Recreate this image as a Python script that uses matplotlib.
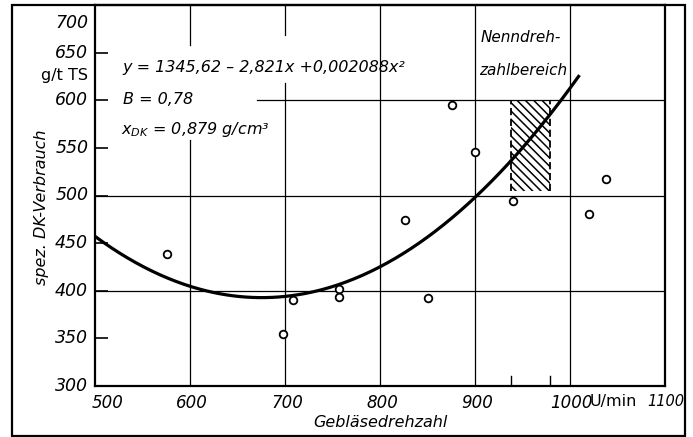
import numpy as np
import matplotlib.pyplot as plt
from matplotlib.patches import Rectangle
import matplotlib.transforms as mtransforms

# Messpunkte: Gebläsedrehzahl (U/min) und spez. DK-Verbrauch (g/t TS)
drehzahl = [576, 698, 708, 757, 757, 826, 851, 876, 900, 940, 1020, 1038]
verbrauch = [439, 355, 390, 402, 393, 474, 392, 595, 546, 494, 481, 517]

# Regressionskurve y = a + b*x + c*x^2 (Koeffizienten aus dem Diagramm)
koeff = [1345.62, -2.821, 0.002088]
kurve_von, kurve_bis = 500, 1010

# Nenndrehzahlbereich
nenn_von, nenn_bis = 938, 979
nenn_unten, nenn_oben = 505, 600

y_ticks = [300, 350, 400, 450, 500, 550, 600, 650, 700]
x_ticks = [500, 600, 700, 800, 900, 1000, 1100]

plt.rcParams['font.family'] = ['DejaVu Sans']
plt.rcParams['font.style'] = 'italic'
plt.rcParams['mathtext.fontset'] = 'dejavusans'
plt.rcParams['hatch.linewidth'] = 1.1

fig = plt.figure(figsize=(6.93, 4.37), dpi=100)
ax = fig.add_axes([95 / 693, 51 / 437, 570 / 693, 381 / 437])
ax.set_xlim(500, 1100)
ax.set_ylim(300, 700)
for sp in ax.spines.values():
    sp.set_linewidth(1.6)

# Gitter (mit Lücken für die Beschriftung wie im Original)
gkw = dict(color='black', lw=0.9, zorder=1)
ax.plot([500, 1100], [400, 400], **gkw)
ax.plot([500, 1100], [500, 500], **gkw)
ax.plot([670, 1100], [600, 600], **gkw)
ax.plot([600, 600], [300, 558], **gkw)
ax.plot([600, 600], [658, 700], **gkw)
ax.plot([700, 700], [300, 618], **gkw)
ax.plot([700, 700], [668, 700], **gkw)
for xv in [800, 900, 1000]:
    ax.plot([xv, xv], [300, 700], **gkw)

ax.set_yticks(y_ticks)
ax.set_xticks(x_ticks)
ax.tick_params(axis='y', direction='in', length=9, width=1.2, labelleft=False)
ax.tick_params(axis='x', length=0, labelbottom=False)

# y-Beschriftung
ytr = mtransforms.blended_transform_factory(ax.transAxes, ax.transData)
for v in y_ticks:
    va = 'top' if v == 700 else 'center'
    yy = 691 if v == 700 else v
    ax.text(-0.012, yy, str(v), transform=ytr, ha='right', va=va, fontsize=12.5)
ax.text(-0.012, 626, 'g/t TS', transform=ytr, ha='right', va='center',
        fontsize=11.5, style='normal')

# x-Beschriftung
xtr = mtransforms.blended_transform_factory(ax.transData, ax.transAxes)
for v in x_ticks:
    if v == 500:
        ax.text(497, -0.02, str(v), transform=xtr, ha='left', va='top', fontsize=12)
    elif v == 1100:
        ax.text(1120, -0.02, str(v), transform=xtr, ha='right', va='top', fontsize=10.5)
    else:
        ax.text(v + 2, -0.02, str(v), transform=xtr, ha='center', va='top', fontsize=12)
ax.text(1021, -0.02, 'U/min', transform=xtr, ha='left', va='top', fontsize=11.5,
        style='normal')

ax.text(800, -0.075, 'Gebläsedrehzahl', transform=xtr, ha='center', va='top',
        fontsize=11.5)
fig.text(42 / 693, 1 - 207 / 437, 'spez. DK-Verbrauch', rotation=90,
         ha='center', va='center', fontsize=11.5)

# Nenndrehzahlbereich schraffiert
ax.fill_between([nenn_von, nenn_bis], nenn_unten, nenn_oben, facecolor='none',
                edgecolor='black', hatch='\\\\\\\\', lw=0, zorder=2)
ax.plot([nenn_von, nenn_von], [nenn_unten, nenn_oben], color='black', lw=1.3,
        ls=(0, (4, 2)), zorder=2)
ax.plot([nenn_bis, nenn_bis], [nenn_unten, nenn_oben], color='black', lw=1.3,
        ls=(0, (4, 2)), zorder=2)
ax.plot([nenn_von, nenn_von], [300, 311], color='black', lw=1.0)
ax.plot([nenn_bis, nenn_bis], [300, 311], color='black', lw=1.0)
ax.text(906, 666, 'Nenndreh-', ha='left', va='center', fontsize=11)
ax.text(904, 631, 'zahlbereich', ha='left', va='center', fontsize=11)

# Regressionskurve
xk = np.linspace(kurve_von, kurve_bis, 300)
yk = koeff[0] + koeff[1] * xk + koeff[2] * xk ** 2
ax.plot(xk, yk, color='black', lw=2.3, zorder=3, solid_capstyle='butt')

# Messpunkte
ax.plot(drehzahl, verbrauch, 'o', ms=5.5, mfc='white', mec='black', mew=1.3,
        zorder=4)

# Gleichung und Kennwerte
ax.text(529, 634, 'y = 1345,62 – 2,821x +0,002088x²', ha='left', va='center',
        fontsize=11.5)
ax.text(529, 601, 'B = 0,78', ha='left', va='center', fontsize=11.5)
ax.text(527, 569, r'$x_{DK}$ = 0,879 g/cm³', ha='left', va='center', fontsize=11.5)

# Außenrahmen
fig.add_artist(Rectangle((12 / 693, 1 / 437), 673 / 693, 431 / 437,
                         transform=fig.transFigure, fill=False, lw=1.6,
                         edgecolor='black'))

fig.savefig('out.png', dpi=100)
